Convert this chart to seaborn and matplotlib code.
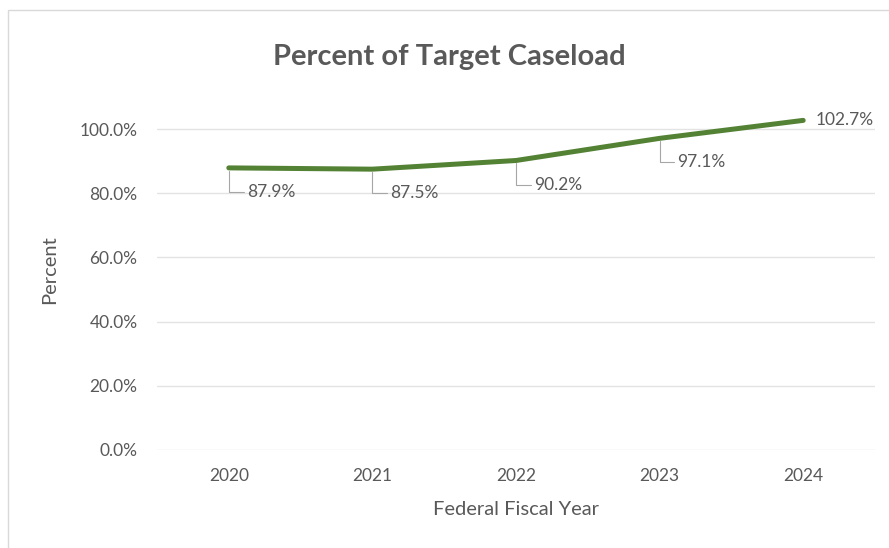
import matplotlib
matplotlib.use("Agg")
import matplotlib.pyplot as plt
import seaborn as sns
import pandas as pd
from matplotlib.patches import Rectangle

years = ["2020", "2021", "2022", "2023", "2024"]
values = [0.879, 0.875, 0.902, 0.971, 1.027]
labels = ["87.9%", "87.5%", "90.2%", "97.1%", "102.7%"]
yticks = [0.0, 0.2, 0.4, 0.6, 0.8, 1.0]

sns.set_theme(style="white")
plt.rcParams["font.family"] = ["Lato", "DejaVu Sans"]

gray = "#595959"
df = pd.DataFrame({"year": years, "value": values})

fig = plt.figure(figsize=(8.89, 5.48), dpi=100)
fig.patches.append(Rectangle((8/889, -0.1), 1.2, 1.1 - 10/548, transform=fig.transFigure,
                             fill=False, edgecolor="#d9d9d9", linewidth=1.0))
ax = fig.add_axes([157/889, 1 - 450/548, (875-157)/889, (450-113)/548])

sns.lineplot(data=df, x="year", y="value", ax=ax, color="#548235", linewidth=3.6,
             sort=False, solid_capstyle="round")

ax.set_xlim(-0.5, 4.5)
ax.set_ylim(0, 1.05)
ax.set_yticks(yticks)
ax.set_yticklabels([f"{t*100:.1f}%" for t in yticks])
for t in yticks:
    ax.axhline(t, color="#e3e3e3", linewidth=1.0, zorder=0)
for s in ax.spines.values():
    s.set_visible(False)
ax.tick_params(axis="both", length=0, labelcolor=gray, labelsize=12.5)
ax.tick_params(axis="x", pad=13)
ax.tick_params(axis="y", pad=14)
ax.set_xlabel("Federal Fiscal Year", color=gray, fontsize=14.5, labelpad=12.5)
ax.set_ylabel("Percent", color=gray, fontsize=14.5)
ax.yaxis.set_label_coords((58 - 157) / 718, (450 - 270) / 337)

# data labels with leader lines
for i, (v, lab) in enumerate(zip(values, labels)):
    if i == len(values) - 1:
        ax.annotate(lab, (i, v), xytext=(12, 0), textcoords="offset pixels",
                    ha="left", va="center", color=gray, fontsize=12.5)
    else:
        ax.annotate(lab, (i, v), xytext=(18, -24), textcoords="offset pixels",
                    ha="left", va="center", color=gray, fontsize=12.5,
                    arrowprops=dict(arrowstyle="-", color="#a6a6a6", lw=0.8,
                                    connectionstyle="angle,angleA=0,angleB=90,rad=0",
                                    shrinkA=0, shrinkB=2))

fig.text(449/889, 1 - 57/548, "Percent of Target Caseload", ha="center", va="center",
         fontsize=21, fontweight="bold", color=gray)

fig.savefig("out.png", dpi=100)
